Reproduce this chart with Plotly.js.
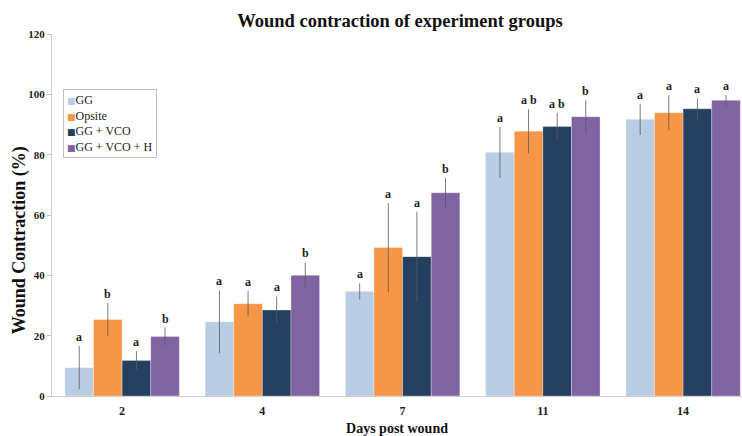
<!DOCTYPE html>
<html>
<head>
<meta charset="utf-8">
<script src="https://cdn.plot.ly/plotly-3.0.1.min.js"></script>
<style>
  html, body { margin: 0; padding: 0; background: #ffffff; }
  #chart { width: 742px; height: 436px; }
</style>
</head>
<body>
<div id="chart"></div>
<script>
// Days after wounding (x categories)
const days = ['2', '4', '7', '11', '14'];

// Treatment groups and their bar colours
const groups = ['GG', 'Opsite', 'GG + VCO', 'GG + VCO + H'];
const colors = ['#b9cde4', '#f79646', '#243f60', '#8064a2'];

// Mean wound contraction (%) per group, one value per day
const ggMean     = [9.4, 24.6, 34.7, 80.8, 91.7];
const opsiteMean = [25.4, 30.6, 49.2, 87.8, 93.9];
const vcoMean    = [11.8, 28.5, 46.2, 89.3, 95.2];
const vcoHMean   = [19.7, 40.0, 67.4, 92.6, 98.0];

// Standard deviations (error bars)
const ggSD     = [7.2, 10.4, 2.7, 8.4, 5.2];
const opsiteSD = [5.5, 4.2, 14.8, 7.3, 5.8];
const vcoSD    = [3.1, 4.5, 14.9, 4.6, 3.5];
const vcoHSD   = [3.0, 4.3, 4.9, 5.4, 1.8];

// Significance letters shown above each bar
const ggSig     = ['a', 'a', 'a', 'a', 'a'];
const opsiteSig = ['b', 'a', 'a', 'a b', 'a'];
const vcoSig    = ['a', 'a', 'a', 'a b', 'a'];
const vcoHSig   = ['b', 'b', 'b', 'b', 'a'];

const means = [ggMean, opsiteMean, vcoMean, vcoHMean];
const sds = [ggSD, opsiteSD, vcoSD, vcoHSD];
const sigs = [ggSig, opsiteSig, vcoSig, vcoHSig];

const serif = '"Liberation Serif", "Times New Roman", serif';
const barW = 0.204;
const dayIdx = days.map((d, i) => i);

const traces = [];
const annotations = [];

groups.forEach((g, s) => {
  const xs = dayIdx.map(i => i + (s - 1.5) * barW);
  traces.push({
    type: 'bar',
    name: g,
    x: xs,
    y: means[s],
    width: barW,
    marker: { color: colors[s], line: { color: 'rgba(255,255,255,0.5)', width: 0.6 } },
    error_y: {
      type: 'data',
      array: sds[s],
      visible: true,
      color: '#5a5a5a',
      thickness: 0.8,
      width: 0
    },
    showlegend: false,
    hoverinfo: 'skip'
  });
  xs.forEach((x, i) => {
    annotations.push({
      x: x,
      y: means[s][i] + sds[s][i],
      xref: 'x',
      yref: 'y',
      text: sigs[s][i],
      showarrow: false,
      yanchor: 'bottom',
      yshift: 0,
      font: { family: serif, size: 12, color: '#222222', weight: 'bold' }
    });
  });
});

// Boxed key listing the groups with small colour squares
const keyLines = groups.map((g, s) =>
  '<span style="color:' + colors[s] + ';font-size:9px;font-family:DejaVu Sans">\u25A0</span>' + g
);
annotations.push({
  xref: 'paper',
  yref: 'paper',
  x: 0.016,
  y: 0.848,
  xanchor: 'left',
  yanchor: 'top',
  align: 'left',
  showarrow: false,
  text: keyLines.join('<br>'),
  bordercolor: '#bfbfbf',
  borderwidth: 1,
  borderpad: 3,
  bgcolor: '#ffffff',
  font: { family: serif, size: 12, color: '#1a1a1a' }
});

// Y-axis title, set a little below the middle of the axis
annotations.push({
  xref: 'paper',
  yref: 'paper',
  x: -0.046,
  y: 0.431,
  xanchor: 'center',
  yanchor: 'middle',
  textangle: -90,
  showarrow: false,
  text: 'Wound Contraction (%)',
  font: { family: serif, size: 18, color: '#111111', weight: 'bold' }
});

const layout = {
  width: 742,
  height: 436,
  margin: { l: 52, r: 0, t: 34, b: 40 },
  paper_bgcolor: '#ffffff',
  plot_bgcolor: '#ffffff',
  barmode: 'overlay',
  showlegend: false,
  title: {
    text: 'Wound contraction of experiment groups',
    font: { family: serif, size: 18.5, color: '#111111', weight: 'bold' },
    xref: 'container',
    yref: 'container',
    x: 0.539,
    y: 0.954,
    xanchor: 'center',
    yanchor: 'middle'
  },
  xaxis: {
    range: [-0.5, 4.42],
    tickvals: dayIdx,
    ticktext: days,
    showgrid: false,
    zeroline: false,
    showline: true,
    linecolor: '#d0d0d0',
    linewidth: 1,
    ticks: '',
    ticklabelstandoff: 4,
    tickfont: { family: serif, size: 12, color: '#222222', weight: 'bold' },
    title: {
      text: 'Days post wound',
      font: { family: serif, size: 14, color: '#111111', weight: 'bold' },
      standoff: 5
    }
  },
  yaxis: {
    range: [0, 120],
    dtick: 20,
    showgrid: false,
    zeroline: false,
    showline: true,
    linecolor: '#d0d0d0',
    linewidth: 1,
    ticks: 'outside',
    ticklen: 4,
    tickcolor: '#bfbfbf',
    tickfont: { family: serif, size: 11, color: '#222222', weight: 'bold' }
  },
  annotations: annotations
};

Plotly.newPlot('chart', traces, layout, { staticPlot: true, displayModeBar: false });
</script>
</body>
</html>
